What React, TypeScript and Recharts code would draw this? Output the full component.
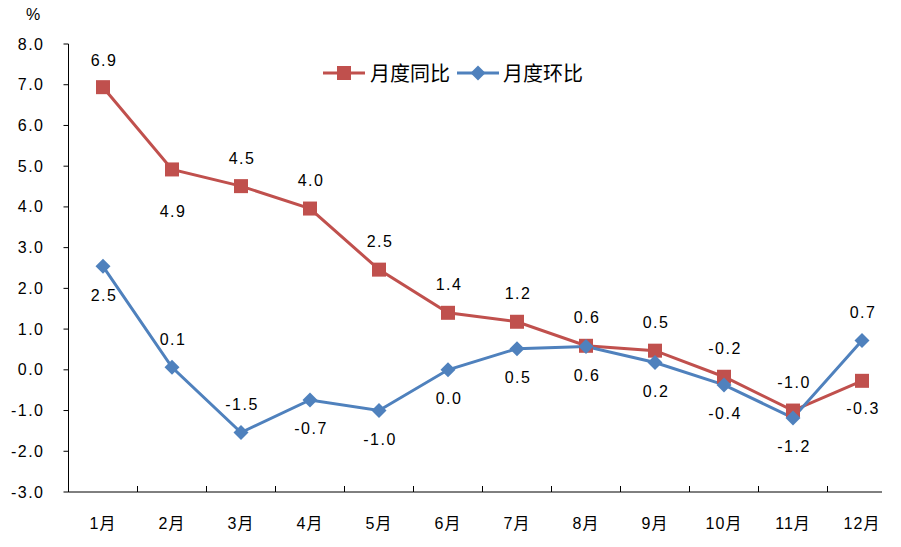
import React from 'react';
import { LineChart, Line, XAxis, YAxis, LabelList } from 'recharts';

const months = ['1月', '2月', '3月', '4月', '5月', '6月', '7月', '8月', '9月', '10月', '11月', '12月'];
const yoy = [6.94, 4.92, 4.51, 3.96, 2.46, 1.4, 1.18, 0.59, 0.47, -0.17, -1.0, -0.27];
const mom = [2.54, 0.06, -1.54, -0.74, -1.0, 0.0, 0.52, 0.57, 0.18, -0.37, -1.18, 0.72];
const yTicks = [-3, -2, -1, 0, 1, 2, 3, 4, 5, 6, 7, 8];

// label offsets (px from the point, negative = above)
const yoyLabelDy = [-27, 42, -28, -28, -28, -28, -28, -28, -28, -28, -28, 28];
const momLabelDy = [29, -28, -28, 29, 29, 29, 29, 29, 29, 29, 29, -28];

const RED = '#C0504D';
const BLUE = '#4F81BD';
const FONT = "'Liberation Sans', Arial, 'Noto Sans CJK SC', sans-serif";
const CJK = "'Noto Sans CJK SC', sans-serif";

const W = 901;
const H = 547;
const BAND = 69;
const Y_W = 60;
const M = { top: 44, right: 4.5, bottom: 15, left: 8.5 };

const chartData = months.map((m, i) => ({ month: m, yoy: yoy[i], mom: mom[i] }));

const SquareDot = (props: any) => {
  const { cx, cy } = props;
  if (cx == null || cy == null) return null;
  return <rect x={cx - 7} y={cy - 7} width={14} height={14} fill={RED} />;
};

const DiamondDot = (props: any) => {
  const { cx, cy } = props;
  if (cx == null || cy == null) return null;
  const r = 7.5;
  return <polygon points={`${cx},${cy - r} ${cx + r},${cy} ${cx},${cy + r} ${cx - r},${cy}`} fill={BLUE} />;
};

const makeLabel = (dys: number[]) => (props: any) => {
  const { x, y, value, index } = props;
  return (
    <text
      x={x + 1}
      y={y + dys[index]}
      textAnchor="middle"
      dominantBaseline="central"
      fontSize={16}
      letterSpacing={1.5}
      fontFamily={FONT}
      fill="#000"
    >
      {Number(value).toFixed(1)}
    </text>
  );
};

const YTick = (props: any) => {
  const { x, y, payload } = props;
  return (
    <text x={x} y={y} textAnchor="end" dominantBaseline="central" fontSize={16} letterSpacing={1.5} fontFamily={FONT} fill="#000">
      {payload.value.toFixed(1)}
    </text>
  );
};

// the axis line is drawn per category so the last band can stop short, like the original
const XTick = (props: any) => {
  const { x, y, payload, index } = props;
  const last = index === months.length - 1;
  return (
    <g>
      <line x1={x - BAND / 2} x2={last ? x + 20 : x + BAND / 2} y1={y} y2={y} stroke="#000" />
      {index > 0 && <line x1={x - BAND / 2} x2={x - BAND / 2} y1={y} y2={y - 6} stroke="#000" />}
      <text x={x} y={y + 31} textAnchor="middle" dominantBaseline="central" fontSize={16} letterSpacing={1} fontFamily={FONT} fill="#000">
        {payload.value}
      </text>
    </g>
  );
};

const ChartLegend = () => (
  <div
    style={{
      position: 'absolute',
      left: 322,
      top: 62,
      display: 'flex',
      alignItems: 'center',
      fontFamily: CJK,
      fontSize: 20,
      lineHeight: '22px',
      color: '#000',
    }}
  >
    <svg width={44} height={20}>
      <line x1={1} x2={43} y1={10} y2={10} stroke={RED} strokeWidth={3} />
      <rect x={15} y={3} width={14} height={14} fill={RED} />
    </svg>
    <span style={{ marginLeft: 4, marginRight: 6 }}>月度同比</span>
    <svg width={44} height={20}>
      <line x1={1} x2={43} y1={10} y2={10} stroke={BLUE} strokeWidth={3} />
      <polygon points="22,2.5 29.5,10 22,17.5 14.5,10" fill={BLUE} />
    </svg>
    <span style={{ marginLeft: 3 }}>月度环比</span>
  </div>
);

export default function App() {
  return (
    <div style={{ position: 'relative', width: W, height: H, background: '#fff' }}>
      <style>{'body{margin:0}'}</style>
      <div style={{ position: 'absolute', left: 26, top: 6, fontFamily: FONT, fontSize: 16 }}>%</div>
      <LineChart width={W} height={H} data={chartData} margin={M}>
        <XAxis
          dataKey="month"
          axisLine={false}
          tickLine={false}
          tickSize={0}
          tickMargin={0}
          tick={<XTick />}
          interval={0}
          height={40}
          padding={{ left: BAND / 2, right: BAND / 2 }}
        />
        <YAxis
          domain={[-3, 8]}
          ticks={yTicks}
          interval={0}
          width={Y_W}
          axisLine={{ stroke: '#000' }}
          tickLine={{ stroke: '#000' }}
          tickSize={5}
          tickMargin={19}
          tick={<YTick />}
        />
        <Line
          type="linear"
          dataKey="yoy"
          stroke={RED}
          strokeWidth={3}
          dot={<SquareDot />}
          activeDot={false}
          isAnimationActive={false}
        >
          <LabelList dataKey="yoy" content={makeLabel(yoyLabelDy)} />
        </Line>
        <Line
          type="linear"
          dataKey="mom"
          stroke={BLUE}
          strokeWidth={3}
          dot={<DiamondDot />}
          activeDot={false}
          isAnimationActive={false}
        >
          <LabelList dataKey="mom" content={makeLabel(momLabelDy)} />
        </Line>
      </LineChart>
      <ChartLegend />
    </div>
  );
}
